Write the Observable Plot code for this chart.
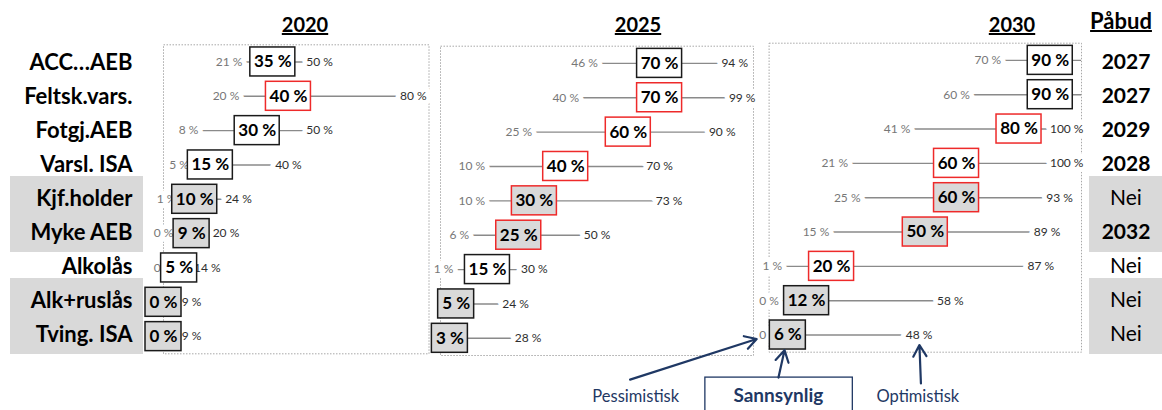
<!DOCTYPE html>
<html><head><meta charset="utf-8">
<script src="https://cdn.jsdelivr.net/npm/d3@7"></script>
<script src="https://cdn.jsdelivr.net/npm/@observablehq/plot@0.6"></script>
<style>
html,body{margin:0;padding:0;background:#fff;}
#chart{position:relative;width:1162px;height:410px;overflow:hidden;font-family:Lato,"Open Sans",sans-serif;background:#fff;}
#chart svg{position:absolute;left:0;top:0;}
#chart svg text{paint-order:stroke;}
.title{position:absolute;font-weight:bold;text-decoration:underline;text-decoration-thickness:2px;transform:translateX(-50%);line-height:1;white-space:nowrap;color:#000;}
</style></head><body><div id="chart"></div>
<script>
// ---------- data ----------
const rows = ["ACC…AEB","Feltsk.vars.","Fotgj.AEB","Varsl. ISA","Kjf.holder","Myke AEB","Alkolås","Alk+ruslås","Tving. ISA"];
const grayRows = ["Kjf.holder","Myke AEB","Alk+ruslås","Tving. ISA"];
const years = ["2020","2025","2030"];

const pessimistic2020 = [21,20,8,5,1,0,0,0,0];
const likely2020      = [35,40,30,15,10,9,5,0,0];
const optimistic2020  = [50,80,50,40,24,20,14,9,9];
const redRows2020 = ["Feltsk.vars."];

const pessimistic2025 = [46,40,25,10,10,6,1,3,1];
const likely2025      = [70,70,60,40,30,25,15,5,3];
const optimistic2025  = [94,99,90,70,73,50,30,24,28];
const redRows2025 = ["Feltsk.vars.","Fotgj.AEB","Varsl. ISA","Kjf.holder","Myke AEB"];

const pessimistic2030 = [70,60,41,21,25,15,1,0,0];
const likely2030      = [90,90,80,60,60,50,20,12,6];
const optimistic2030  = [100,100,100,100,93,89,87,58,48];
const redRows2030 = ["Fotgj.AEB","Varsl. ISA","Kjf.holder","Myke AEB","Alkolås"];
const unlabeledOptimistic2030 = ["ACC…AEB","Feltsk.vars."];

const pabudHeader = "Påbud";
const pabud = ["2027","2027","2029","2028","Nei","2032","Nei","Nei","Nei"];
const keyLabels = ["Pessimistisk","Sannsynlig","Optimistisk"];

// ---------- helpers ----------
const W = 1162, H = 410;
const chart = document.getElementById("chart");
const navy = "#1f3864";
const GRAY = "#d9d9d9";

function mount(svg){
  Object.assign(svg.style,{position:"absolute",left:"0px",top:"0px",background:"transparent",overflow:"visible",fontFamily:"Lato, 'Open Sans', sans-serif"});
  chart.appendChild(svg);
}
function addTitle(text, cx, top, size){
  const d = document.createElement("div");
  d.className = "title"; d.textContent = text;
  d.style.left = cx + "px"; d.style.top = top + "px"; d.style.fontSize = size + "px";
  chart.appendChild(d);
}
function panelData(pess, likely, opt, redRows, unlabeled = []){
  return rows.map((row, i) => ({row, i, pess: pess[i], likely: likely[i], opt: opt[i],
    red: redRows.includes(row), gray: grayRows.includes(row),
    // a pessimistic label that sits entirely under the box is not visible in the original
    showPess: likely[i] - pess[i] > 2,
    showOpt: !unlabeled.includes(row)}));
}
function panel(data, xMax, frame, extra = []){
  const clamp = d => d.opt >= xMax - 2.5;
  const box = (filter, half) => Plot.rect(data.filter(filter), {
    x1: "likely", x2: "likely", y1: "i", y2: "i",
    insetLeft: -half, insetRight: -half, insetTop: -14.5, insetBottom: -14.5,
    fill: d => d.gray ? GRAY : "#ffffff",
    stroke: d => d.red ? "#ee2a2a" : "#1a1a1a", strokeWidth: 1.5
  });
  return Plot.plot({
    width: W, height: H,
    marginLeft: frame.left, marginRight: W - frame.right,
    marginTop: frame.top, marginBottom: H - frame.bottom,
    x: {domain: [0, xMax], axis: null},
    y: {domain: [-0.5, 8.5], reverse: true, axis: null},
    color: {type: "identity"},
    marks: [
      Plot.frame({stroke: "#a8a8a8", strokeDasharray: "1.5,1.5", strokeWidth: 1}),
      Plot.ruleY(data, {y: "i", x1: "pess", x2: "opt", stroke: "#8a8a8a", strokeWidth: 1.4}),
      Plot.text(data.filter(d => d.showPess), {x: "pess", y: "i", text: d => `${d.pess} %`, fontSize: 12, fill: "#777777",
        stroke: "white", strokeWidth: 10, paintOrder: "stroke"}),
      Plot.text(data.filter(d => d.showOpt && !clamp(d)), {x: "opt", y: "i", text: d => `${d.opt} %`, fontSize: 12,
        fill: "#2e2e2e", stroke: "white", strokeWidth: 10, paintOrder: "stroke"}),
      Plot.text(data.filter(d => d.showOpt && clamp(d)), {y: "i", frameAnchor: "right", textAnchor: "end", dx: 2,
        text: d => `${d.opt} %`, fontSize: 12, fill: "#2e2e2e", stroke: "white", strokeWidth: 10, paintOrder: "stroke"}),
      box(d => String(d.likely).length < 2, 18),
      box(d => String(d.likely).length >= 2, 22.5),
      Plot.text(data, {x: "likely", y: "i", text: d => `${d.likely} %`, fontSize: 17, fontWeight: "bold", fill: "#000"}),
      ...extra
    ]
  });
}

// ---------- row label column ----------
mount(Plot.plot({
  width: W, height: H, marginLeft: 10, marginRight: W - 143, marginTop: 43.5, marginBottom: H - 352.5,
  y: {domain: rows, type: "band", padding: 0, axis: null},
  marks: [
    Plot.cell(grayRows, {y: d => d, fill: GRAY, insetTop: -5, insetBottom: -3}),
    Plot.text(rows, {y: d => d, frameAnchor: "right", textAnchor: "end", dx: -11, fontSize: 22, fontWeight: "bold", fill: "#000"})
  ]
}));

// ---------- panels ----------
const d2020 = panelData(pessimistic2020, likely2020, optimistic2020, redRows2020);
const d2025 = panelData(pessimistic2025, likely2025, optimistic2025, redRows2025);
const d2030 = panelData(pessimistic2030, likely2030, optimistic2030, redRows2030, unlabeledOptimistic2030);

mount(panel(d2020, 85, {left: 163, right: 428.5, top: 44.3, bottom: 353.3}));
mount(panel(d2025, 100, {left: 440, right: 753, top: 45.7, bottom: 355}));

const tving = d2030[d2030.length - 1];
const keyMarks = [
  Plot.rect([keyLabels[1]], {x1: -20.4, x2: 26.8, y1: 9.24, y2: 10.9, fill: "white", stroke: navy, strokeWidth: 1.3}),
  Plot.arrow([tving], {x1: -44.5, y1: 9.30, x2: "pess", y2: "i", insetEnd: 13, stroke: navy, strokeWidth: 2.2, headLength: 9}),
  Plot.arrow([tving], {x1: 3.0, y1: 9.24, x2: "likely", y2: "i", insetEnd: 15.5, stroke: navy, strokeWidth: 2.2, headLength: 9}),
  Plot.arrow([tving], {x1: 48.6, y1: 9.41, x2: "opt", y2: "i", insetEnd: 10, stroke: navy, strokeWidth: 2.2, headLength: 9}),
  Plot.text([keyLabels[0]], {x: -42.7, y: 9.80, text: d => d, fontSize: 16.5, fill: navy}),
  Plot.text([keyLabels[1]], {x: 2.95, y: 9.76, text: d => d, fontSize: 19, fontWeight: "bold", fill: navy}),
  Plot.text([keyLabels[2]], {x: 47.6, y: 9.80, text: d => d, fontSize: 16.5, fill: navy})
];
mount(panel(d2030, 100, {left: 768.6, right: 1081, top: 42.7, bottom: 351.7}, keyMarks));

// ---------- Påbud column ----------
const pabudData = rows.map((row, i) => ({row, value: pabud[i]}));
mount(Plot.plot({
  width: W, height: H, marginLeft: 1089, marginRight: 0, marginTop: 43.5, marginBottom: H - 352.5,
  y: {domain: rows, type: "band", padding: 0, axis: null},
  marks: [
    Plot.cell(grayRows, {y: d => d, fill: GRAY, insetTop: -5, insetBottom: -3}),
    Plot.text(pabudData.filter(d => d.value !== "Nei"), {y: "row", text: "value", frameAnchor: "middle", fontSize: 21, fontWeight: "bold", fill: "#000"}),
    Plot.text(pabudData.filter(d => d.value === "Nei"), {y: "row", text: "value", frameAnchor: "middle", fontSize: 21, fill: "#000"})
  ]
}));

// ---------- titles ----------
addTitle(years[0], 305, 14, 20);
addTitle(years[1], 638, 14, 20);
addTitle(years[2], 1012, 14, 20);
addTitle(pabudHeader, 1121, 10, 22);
</script></body></html>
